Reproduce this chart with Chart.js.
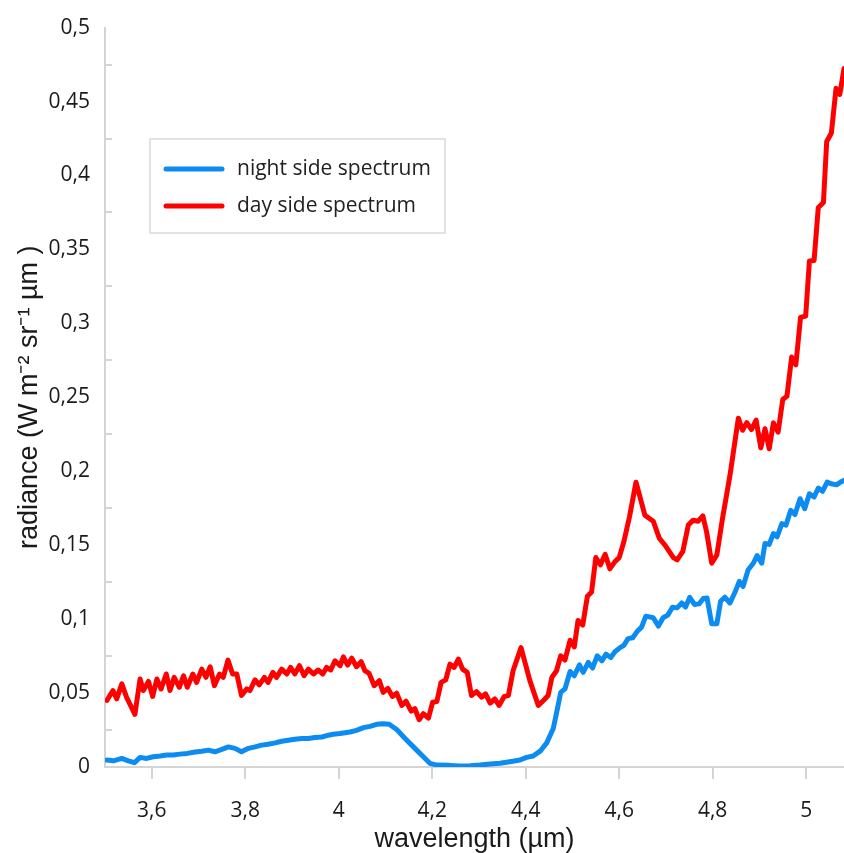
<!DOCTYPE html>
<html>
<head>
<meta charset="utf-8">
<script src="https://cdn.jsdelivr.net/npm/chart.js@4.4.1/dist/chart.umd.min.js"></script>
<style>
  html, body { margin: 0; padding: 0; background: #fff; }
  #spectrum { display: block; }
</style>
</head>
<body>
<canvas id="spectrum" width="844" height="853"></canvas>
<script>
// Series labels and tick values
const seriesLabels = ['night side spectrum', 'day side spectrum'];
const xTickValues = [3.6, 3.8, 4, 4.2, 4.4, 4.6, 4.8, 5];
const yTickValues = [0, 0.05, 0.1, 0.15, 0.2, 0.25, 0.3, 0.35, 0.4, 0.45, 0.5];
const yMinorTicks = [0.025, 0.075, 0.125, 0.175, 0.225, 0.275, 0.325, 0.375, 0.425, 0.475];

// Night side radiance (W m-2 sr-1 um-1) vs wavelength (um)
const nightWavelength = [
  3.504, 3.518, 3.536, 3.550, 3.563, 3.575, 3.589, 3.603, 3.618, 3.632,
  3.646, 3.660, 3.676, 3.693, 3.707, 3.721, 3.735, 3.750, 3.764, 3.778,
  3.792, 3.807, 3.821, 3.835, 3.849, 3.864, 3.878, 3.892, 3.906, 3.921,
  3.935, 3.949, 3.964, 3.978, 3.988, 4.003, 4.024, 4.038, 4.053, 4.067,
  4.081, 4.095, 4.108, 4.124, 4.142, 4.163, 4.181, 4.195, 4.210, 4.238,
  4.259, 4.281, 4.302, 4.324, 4.345, 4.366, 4.388, 4.402, 4.416, 4.431,
  4.445, 4.459, 4.468, 4.475, 4.484, 4.495, 4.504, 4.515, 4.523, 4.534,
  4.543, 4.553, 4.563, 4.572, 4.582, 4.591, 4.602, 4.610, 4.619, 4.629,
  4.639, 4.648, 4.657, 4.673, 4.684, 4.694, 4.704, 4.714, 4.724, 4.734,
  4.742, 4.751, 4.761, 4.771, 4.780, 4.788, 4.798, 4.809, 4.817, 4.826,
  4.837, 4.848, 4.857, 4.865, 4.876, 4.887, 4.895, 4.905, 4.912, 4.921,
  4.930, 4.938, 4.948, 4.957, 4.967, 4.976, 4.987, 4.997, 5.007, 5.017,
  5.026, 5.035, 5.045, 5.054, 5.065, 5.076, 5.081
];
const nightRadiance = [
  0.0047, 0.0042, 0.0058, 0.0042, 0.0029, 0.0065, 0.0058, 0.0069, 0.0074, 0.0081,
  0.0081, 0.0087, 0.0092, 0.0101, 0.0107, 0.0114, 0.0103, 0.0119, 0.0136, 0.0126,
  0.0103, 0.0126, 0.0136, 0.0148, 0.0154, 0.0163, 0.0174, 0.0181, 0.0188, 0.0193,
  0.0193, 0.0199, 0.0203, 0.0215, 0.0221, 0.0226, 0.0237, 0.0248, 0.0266, 0.0275,
  0.0289, 0.0293, 0.0289, 0.0253, 0.0193, 0.0126, 0.0069, 0.0025, 0.0013, 0.0011,
  0.0007, 0.0009, 0.0013, 0.0020, 0.0025, 0.0036, 0.0047, 0.0065, 0.0074, 0.0107,
  0.0163, 0.0260, 0.0396, 0.0505, 0.0528, 0.0646, 0.0617, 0.0691, 0.0640, 0.0707,
  0.0669, 0.0752, 0.0718, 0.0763, 0.0740, 0.0779, 0.0807, 0.0823, 0.0868, 0.0874,
  0.0919, 0.0946, 0.1020, 0.1009, 0.0953, 0.1009, 0.1027, 0.1081, 0.1076, 0.1109,
  0.1081, 0.1148, 0.1099, 0.1103, 0.1139, 0.1143, 0.0968, 0.0968, 0.1121, 0.1148,
  0.1109, 0.1183, 0.1255, 0.1221, 0.1334, 0.1378, 0.1430, 0.1378, 0.1512, 0.1505,
  0.1579, 0.1557, 0.1646, 0.1636, 0.1736, 0.1707, 0.1814, 0.1747, 0.1848, 0.1826,
  0.1886, 0.1864, 0.1926, 0.1915, 0.1908, 0.1931, 0.1938
];

// Day side radiance
const dayWavelength = [
  3.504, 3.517, 3.525, 3.536, 3.546, 3.564, 3.575, 3.582, 3.593, 3.602,
  3.611, 3.620, 3.631, 3.639, 3.648, 3.659, 3.668, 3.676, 3.688, 3.696,
  3.707, 3.716, 3.725, 3.734, 3.745, 3.753, 3.763, 3.773, 3.782, 3.792,
  3.803, 3.810, 3.821, 3.830, 3.841, 3.849, 3.859, 3.867, 3.878, 3.889,
  3.897, 3.906, 3.916, 3.926, 3.935, 3.946, 3.956, 3.966, 3.974, 3.983,
  3.992, 4.003, 4.010, 4.019, 4.028, 4.038, 4.048, 4.056, 4.065, 4.076,
  4.087, 4.095, 4.105, 4.115, 4.124, 4.135, 4.144, 4.155, 4.163, 4.172,
  4.181, 4.192, 4.201, 4.210, 4.219, 4.229, 4.238, 4.247, 4.256, 4.265,
  4.275, 4.284, 4.295, 4.306, 4.314, 4.324, 4.334, 4.343, 4.354, 4.363,
  4.373, 4.390, 4.409, 4.427, 4.438, 4.448, 4.456, 4.466, 4.475, 4.484,
  4.495, 4.504, 4.512, 4.522, 4.532, 4.541, 4.550, 4.560, 4.570, 4.580,
  4.591, 4.600, 4.610, 4.622, 4.636, 4.655, 4.673, 4.686, 4.698, 4.716,
  4.724, 4.736, 4.748, 4.758, 4.769, 4.779, 4.787, 4.798, 4.809, 4.821,
  4.837, 4.855, 4.864, 4.873, 4.883, 4.893, 4.903, 4.912, 4.921, 4.930,
  4.940, 4.950, 4.959, 4.969, 4.978, 4.988, 4.999, 5.007, 5.017, 5.026,
  5.037, 5.044, 5.054, 5.064, 5.072, 5.081
];
const dayRadiance = [
  0.0450, 0.0517, 0.0461, 0.0562, 0.0472, 0.0356, 0.0595, 0.0517, 0.0579, 0.0477,
  0.0595, 0.0528, 0.0629, 0.0517, 0.0606, 0.0539, 0.0617, 0.0539, 0.0629, 0.0572,
  0.0662, 0.0606, 0.0678, 0.0550, 0.0629, 0.0606, 0.0723, 0.0629, 0.0629, 0.0483,
  0.0528, 0.0517, 0.0589, 0.0555, 0.0606, 0.0572, 0.0640, 0.0606, 0.0662, 0.0629,
  0.0673, 0.0629, 0.0685, 0.0617, 0.0662, 0.0629, 0.0656, 0.0629, 0.0673, 0.0656,
  0.0718, 0.0685, 0.0745, 0.0689, 0.0736, 0.0678, 0.0713, 0.0651, 0.0633, 0.0550,
  0.0584, 0.0505, 0.0532, 0.0477, 0.0499, 0.0416, 0.0445, 0.0378, 0.0394, 0.0320,
  0.0360, 0.0331, 0.0438, 0.0443, 0.0572, 0.0589, 0.0696, 0.0673, 0.0730, 0.0662,
  0.0640, 0.0483, 0.0510, 0.0472, 0.0495, 0.0432, 0.0461, 0.0416, 0.0477, 0.0483,
  0.0651, 0.0807, 0.0584, 0.0416, 0.0450, 0.0483, 0.0606, 0.0651, 0.0752, 0.0723,
  0.0857, 0.0812, 0.0991, 0.0960, 0.1154, 0.1183, 0.1416, 0.1367, 0.1438, 0.1340,
  0.1389, 0.1416, 0.1523, 0.1691, 0.1926, 0.1703, 0.1662, 0.1546, 0.1501, 0.1416,
  0.1401, 0.1456, 0.1636, 0.1669, 0.1662, 0.1698, 0.1591, 0.1378, 0.1434, 0.1680,
  0.1971, 0.2359, 0.2277, 0.2329, 0.2282, 0.2346, 0.2158, 0.2287, 0.2152, 0.2327,
  0.2264, 0.2485, 0.2508, 0.2772, 0.2720, 0.3040, 0.3049, 0.3421, 0.3425, 0.3783,
  0.3817, 0.4230, 0.4287, 0.4589, 0.4548, 0.4723
];

const nightColor = '#0c8cf0';
const dayColor = '#ff0000';
const axisColor = '#d4d4d4';
const tickFont = { family: '"Open Sans", sans-serif', size: 21 };

const toPoints = (xs, ys) => xs.map((x, i) => ({ x: x, y: ys[i] }));
const commaDecimal = (v) => String(Math.round(v * 1000) / 1000).replace('.', ',');

// small inward ticks halfway between the y labels
const minorTickPlugin = {
  id: 'minorTicks',
  afterDraw(chart) {
    const { ctx, chartArea, scales } = chart;
    ctx.save();
    ctx.strokeStyle = axisColor;
    ctx.lineWidth = 2;
    yMinorTicks.forEach(v => {
      const y = Math.round(scales.y.getPixelForValue(v));
      ctx.beginPath();
      ctx.moveTo(chartArea.left, y);
      ctx.lineTo(chartArea.left + 7, y);
      ctx.stroke();
    });
    ctx.restore();
  }
};

// boxed legend sitting inside the plot
const boxLegendPlugin = {
  id: 'boxLegend',
  afterDraw(chart) {
    const { ctx } = chart;
    const box = { x: 150, y: 139, w: 295, h: 94 };
    ctx.save();
    ctx.fillStyle = '#ffffff';
    ctx.fillRect(box.x, box.y, box.w, box.h);
    ctx.strokeStyle = '#d9d9d9';
    ctx.lineWidth = 1.5;
    ctx.strokeRect(box.x, box.y, box.w, box.h);
    ctx.font = '21px "Open Sans", sans-serif';
    ctx.textBaseline = 'middle';
    ctx.lineCap = 'round';
    chart.data.datasets.forEach((ds, i) => {
      const y = 169 + i * 37;
      ctx.strokeStyle = ds.borderColor;
      ctx.lineWidth = 5;
      ctx.beginPath();
      ctx.moveTo(166, y);
      ctx.lineTo(222, y);
      ctx.stroke();
      ctx.fillStyle = '#222';
      ctx.fillText(ds.label, 237, y);
    });
    ctx.restore();
  }
};

new Chart(document.getElementById('spectrum'), {
  type: 'line',
  data: {
    datasets: [
      {
        label: seriesLabels[0],
        data: toPoints(nightWavelength, nightRadiance),
        borderColor: nightColor,
        backgroundColor: nightColor
      },
      {
        label: seriesLabels[1],
        data: toPoints(dayWavelength, dayRadiance),
        borderColor: dayColor,
        backgroundColor: dayColor
      }
    ]
  },
  options: {
    responsive: false,
    animation: false,
    devicePixelRatio: 1,
    layout: { padding: { top: 22, right: 0, left: 0, bottom: 0 } },
    elements: {
      line: { borderWidth: 5, tension: 0, borderJoinStyle: 'round', borderCapStyle: 'round' },
      point: { radius: 0 }
    },
    plugins: {
      legend: { display: false },
      tooltip: { enabled: false }
    },
    scales: {
      x: {
        type: 'linear',
        min: 3.5,
        max: 5.081,
        afterBuildTicks: (scale) => { scale.ticks = xTickValues.map(v => ({ value: v })); },
        afterFit: (scale) => { scale.height = 86; },
        grid: { display: true, drawOnChartArea: false, drawTicks: true, tickLength: 12, color: axisColor, lineWidth: 2 },
        border: { display: true, color: axisColor, width: 2 },
        ticks: {
          color: '#1a1a1a',
          font: tickFont,
          padding: 19,
          maxRotation: 0,
          callback: (v) => commaDecimal(v)
        },
        title: {
          display: true,
          text: 'wavelength (µm)',
          color: '#1a1a1a',
          font: { family: '"Liberation Sans", Arial, sans-serif', size: 27, lineHeight: 1 },
          padding: { top: 1, bottom: 0 }
        }
      },
      y: {
        type: 'linear',
        min: 0,
        max: 0.5,
        afterBuildTicks: (scale) => { scale.ticks = yTickValues.map(v => ({ value: v })); },
        afterFit: (scale) => { scale.width = 105; },
        grid: { display: false, drawTicks: false },
        border: { display: true, color: axisColor, width: 2 },
        ticks: {
          color: '#1a1a1a',
          font: tickFont,
          padding: 15,
          callback: (v) => commaDecimal(v)
        },
        title: {
          display: true,
          text: 'radiance (W m⁻² sr⁻¹ µm )',
          color: '#1a1a1a',
          font: { family: '"Liberation Sans", Arial, sans-serif', size: 27, lineHeight: 1 },
          padding: { top: 16, bottom: 0 }
        }
      }
    }
  },
  plugins: [minorTickPlugin, boxLegendPlugin]
});
</script>
</body>
</html>
